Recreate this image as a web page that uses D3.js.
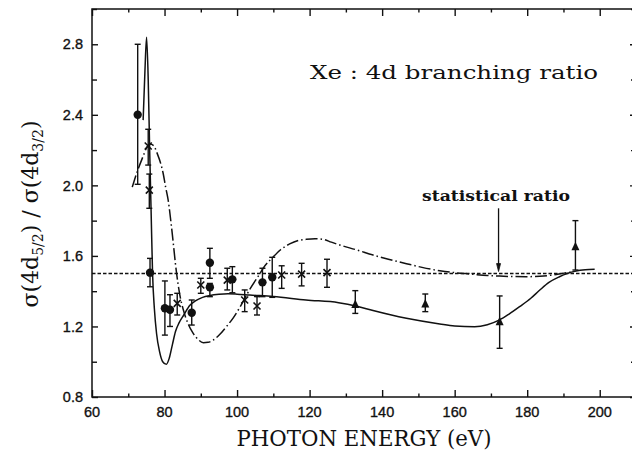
<!DOCTYPE html>
<html>
<head>
<meta charset="utf-8">
<script src="https://cdn.jsdelivr.net/npm/d3@7"></script>
<style>
  html, body { margin: 0; padding: 0; background: #fff; }
  svg { display: block; }
</style>
</head>
<body>
<svg id="chart" width="632" height="451"></svg>
<script>
// Xe 4d branching ratio: measured points with error bars and two calculated curves.

// Filled circles
const circleE  = [72.6, 76.0, 80.1, 81.5, 87.5, 92.5, 92.5, 98.7, 107.0, 109.7];
const circleV  = [2.40, 1.505, 1.303, 1.295, 1.278, 1.561, 1.422, 1.467, 1.45, 1.479];
const circleLo = [2.006, 1.425, 1.151, 1.20, 1.208, 1.473, 1.369, 1.391, 1.369, 1.365];
const circleHi = [2.80, 1.586, 1.458, 1.38, 1.35, 1.643, 1.444, 1.539, 1.53, 1.592];

// Crosses
const crossE  = [75.5, 75.8, 83.5, 90.0, 97.3, 102.1, 105.5, 112.3, 117.8, 124.8];
const crossV  = [2.223, 1.973, 1.331, 1.435, 1.463, 1.35, 1.316, 1.492, 1.497, 1.505];
const crossLo = [2.115, 1.87, 1.265, 1.388, 1.407, 1.284, 1.265, 1.416, 1.43, 1.422];
const crossHi = [2.318, 2.064, 1.388, 1.473, 1.53, 1.407, 1.369, 1.544, 1.558, 1.581];

// Filled triangles
const triE  = [132.6, 151.9, 172.4, 193.3];
const triV  = [1.325, 1.327, 1.227, 1.652];
const triLo = [1.274, 1.284, 1.076, 1.52];
const triHi = [1.403, 1.384, 1.373, 1.80];

// Solid calculated curve
const solidE = [74.1, 74.6, 75.05, 75.5, 75.9, 76.3, 76.7, 77.2, 77.8, 78.6, 79.5, 80.5, 81.3, 82.2, 83.0, 84.0,
  85.3, 87.0, 88.5, 90.5, 92.5, 95.0, 97.5, 100.0, 103.5, 110.0, 119.0, 128.0, 133.0, 137.5, 146.7, 155.9,
  160.0, 165.5, 169.0, 172.4, 175.0, 177.9, 181.0, 183.4, 186.0, 188.9, 191.0, 193.5, 196.0, 198.6];
const solidV = [2.37, 2.65, 2.84, 2.6, 2.2, 1.85, 1.5, 1.3, 1.16, 1.06, 1.0, 0.985, 1.02, 1.1, 1.17, 1.22,
  1.265, 1.32, 1.345, 1.365, 1.375, 1.382, 1.385, 1.383, 1.378, 1.37, 1.35, 1.335, 1.315, 1.29, 1.246, 1.214,
  1.203, 1.199, 1.21, 1.237, 1.27, 1.312, 1.36, 1.405, 1.45, 1.482, 1.5, 1.514, 1.521, 1.524];

// Dash-dot calculated curve
const dashE = [71.1, 72.5, 74.0, 75.1, 76.0, 77.0, 78.0, 79.0, 79.6, 80.3, 81.0, 82.0, 83.3, 84.2, 85.2, 86.5,
  87.9, 89.3, 90.7, 92.0, 93.4, 95.0, 97.1, 99.0, 100.8, 103.5, 106.3, 107.2, 110.0, 112.0, 114.5, 117.0,
  119.1, 121.5, 123.7, 126.0, 128.3, 133.0, 137.5, 142.0, 146.7, 151.0, 155.9, 159.5, 163.0, 166.0, 169.0,
  172.4, 176.0, 179.7, 183.5, 187.1, 189.8, 192.0];
const dashV = [1.99, 2.08, 2.16, 2.215, 2.234, 2.225, 2.18, 2.12, 2.07, 1.99, 1.917, 1.75, 1.505, 1.38, 1.293, 1.215,
  1.161, 1.125, 1.108, 1.11, 1.123, 1.15, 1.2, 1.25, 1.31, 1.41, 1.5, 1.53, 1.595, 1.635, 1.668, 1.688,
  1.694, 1.697, 1.694, 1.678, 1.662, 1.634, 1.605, 1.58, 1.556, 1.535, 1.516, 1.506, 1.5, 1.494, 1.489,
  1.486, 1.483, 1.482, 1.485, 1.492, 1.501, 1.508];

const statRatio = 1.5;
const arrowE = 172.1, arrowFrom = 1.87;

const xTicks = [60, 80, 100, 120, 140, 160, 180, 200];
const yTicks = [0.8, 1.2, 1.6, 2.0, 2.4, 2.8];

const ink = "#111";
const svg = d3.select("#chart");

const x = d3.scaleLinear().domain([60, 210]).range([92, 636]);
const y = d3.scaleLinear().domain([0.8, 3.0]).range([397, 9]);

// Frame
svg.append("rect")
  .attr("x", x(60)).attr("y", y(3.0))
  .attr("width", x(210) - x(60)).attr("height", y(0.8) - y(3.0))
  .attr("fill", "none").attr("stroke", ink).attr("stroke-width", 1.5);

// Axes: ticks point inward on all four sides
const xMinor = d3.range(60, 211, 10).filter(v => v % 20 !== 0);
const yMinor = d3.range(0.8, 3.01, 0.2).filter(v => Math.abs(Math.round(v * 10) % 4) !== 0);

function tickAxis(axisFn, scale, vals, len, transform) {
  const g = svg.append("g").attr("transform", transform)
    .call(axisFn(scale).tickValues(vals).tickSize(len).tickFormat(""));
  g.select(".domain").remove();
  g.selectAll("line").attr("stroke", ink).attr("stroke-width", 1.4);
  return g;
}
// bottom
tickAxis(d3.axisTop, x, xTicks, 7, `translate(0,${y(0.8)})`);
tickAxis(d3.axisTop, x, xMinor, 3.5, `translate(0,${y(0.8)})`);
// top
tickAxis(d3.axisBottom, x, xTicks, 7, `translate(0,${y(3.0)})`);
tickAxis(d3.axisBottom, x, xMinor, 3.5, `translate(0,${y(3.0)})`);
// left
tickAxis(d3.axisRight, y, yTicks, 6, `translate(${x(60)},0)`);
tickAxis(d3.axisRight, y, yMinor, 5, `translate(${x(60)},0)`);
// right
tickAxis(d3.axisLeft, y, yTicks, 6, `translate(${x(210)},0)`);
tickAxis(d3.axisLeft, y, yMinor, 5, `translate(${x(210)},0)`);

// Tick labels
const tickFont = "'Liberation Sans', Arial, sans-serif";
svg.append("g").selectAll("text").data(xTicks).join("text")
  .attr("x", d => x(d)).attr("y", 417)
  .attr("text-anchor", "middle")
  .attr("font-family", tickFont).attr("font-size", 14.5)
  .attr("fill", ink).attr("stroke", ink).attr("stroke-width", 0.35)
  .text(d => d);
svg.append("g").selectAll("text").data(yTicks).join("text")
  .attr("x", 83).attr("y", d => y(d)).attr("dy", "0.36em")
  .attr("text-anchor", "end")
  .attr("font-family", tickFont).attr("font-size", 14.5)
  .attr("fill", ink).attr("stroke", ink).attr("stroke-width", 0.35)
  .text(d => d3.format(".1f")(d));

// Axis titles
const serif = "'DejaVu Serif', serif";
svg.append("text")
  .attr("x", 364).attr("y", 446)
  .attr("text-anchor", "middle")
  .attr("font-family", serif).attr("font-size", 22)
  .attr("textLength", 255).attr("lengthAdjust", "spacingAndGlyphs")
  .attr("fill", ink)
  .text("PHOTON ENERGY (eV)");

const yl = svg.append("text")
  .attr("transform", `translate(38,214) rotate(-90)`)
  .attr("text-anchor", "middle")
  .attr("font-family", serif).attr("font-size", 22)
  .attr("fill", ink);
yl.append("tspan").text("σ(4d");
yl.append("tspan").attr("font-size", 14).attr("dy", 5).text("5/2");
yl.append("tspan").attr("dy", -5).text(")  /  σ(4d");
yl.append("tspan").attr("font-size", 14).attr("dy", 5).text("3/2");
yl.append("tspan").attr("dy", -5).text(")");

// Title
svg.append("text")
  .attr("x", 310).attr("y", 79)
  .attr("font-family", serif).attr("font-size", 19)
  .attr("textLength", 288).attr("lengthAdjust", "spacingAndGlyphs")
  .attr("fill", ink)
  .text("Xe : 4d branching ratio");

// Statistical ratio line, label and arrow
svg.append("line")
  .attr("x1", x(60)).attr("x2", x(210))
  .attr("y1", y(statRatio)).attr("y2", y(statRatio))
  .attr("stroke", ink).attr("stroke-width", 1.5).attr("stroke-dasharray", "3.5,2");

svg.append("text")
  .attr("x", 422).attr("y", 201)
  .attr("font-family", serif).attr("font-size", 14).attr("font-weight", "bold")
  .attr("textLength", 148).attr("lengthAdjust", "spacingAndGlyphs")
  .attr("fill", ink)
  .text("statistical ratio");

svg.append("line")
  .attr("x1", x(arrowE)).attr("x2", x(arrowE))
  .attr("y1", y(arrowFrom)).attr("y2", y(statRatio) - 8)
  .attr("stroke", ink).attr("stroke-width", 1.3);
svg.append("path")
  .attr("d", `M${x(arrowE) - 2},${y(statRatio) - 10} L${x(arrowE) + 2},${y(statRatio) - 10} L${x(arrowE)},${y(statRatio) - 2} Z`)
  .attr("fill", ink).attr("stroke", ink).attr("stroke-width", 0.8);

// Calculated curves
const line = d3.line().x(d => x(d[0])).y(d => y(d[1])).curve(d3.curveMonotoneX);
svg.append("path")
  .attr("d", line(d3.zip(solidE, solidV)))
  .attr("fill", "none").attr("stroke", ink).attr("stroke-width", 1.5);
svg.append("path")
  .attr("d", line(d3.zip(dashE, dashV)))
  .attr("fill", "none").attr("stroke", ink).attr("stroke-width", 1.5)
  .attr("stroke-dasharray", "12,3,1.5,3");

// Error bars
function errorBars(E, Lo, Hi) {
  const g = svg.append("g").attr("stroke", ink).attr("stroke-width", 1.4);
  E.forEach((e, i) => {
    const cx = x(e);
    g.append("line").attr("x1", cx).attr("x2", cx).attr("y1", y(Lo[i])).attr("y2", y(Hi[i]));
    g.append("line").attr("x1", cx - 3).attr("x2", cx + 3).attr("y1", y(Lo[i])).attr("y2", y(Lo[i]));
    g.append("line").attr("x1", cx - 3).attr("x2", cx + 3).attr("y1", y(Hi[i])).attr("y2", y(Hi[i]));
  });
}
errorBars(circleE, circleLo, circleHi);
errorBars(crossE, crossLo, crossHi);
errorBars(triE, triLo, triHi);

// Markers
svg.append("g").selectAll("circle").data(d3.zip(circleE, circleV)).join("circle")
  .attr("cx", d => x(d[0])).attr("cy", d => y(d[1])).attr("r", 4.2)
  .attr("fill", ink);

svg.append("g").selectAll("path").data(d3.zip(crossE, crossV)).join("path")
  .attr("d", d => {
    const cx = x(d[0]), cy = y(d[1]), s = 3.5;
    return `M${cx - s},${cy - s}L${cx + s},${cy + s}M${cx - s},${cy + s}L${cx + s},${cy - s}`;
  })
  .attr("stroke", ink).attr("stroke-width", 1.6).attr("fill", "none");

svg.append("g").selectAll("path").data(d3.zip(triE, triV)).join("path")
  .attr("d", d => {
    const cx = x(d[0]), cy = y(d[1]);
    return `M${cx},${cy - 5}L${cx + 4},${cy + 3.5}L${cx - 4},${cy + 3.5}Z`;
  })
  .attr("fill", ink);
</script>
</body>
</html>
